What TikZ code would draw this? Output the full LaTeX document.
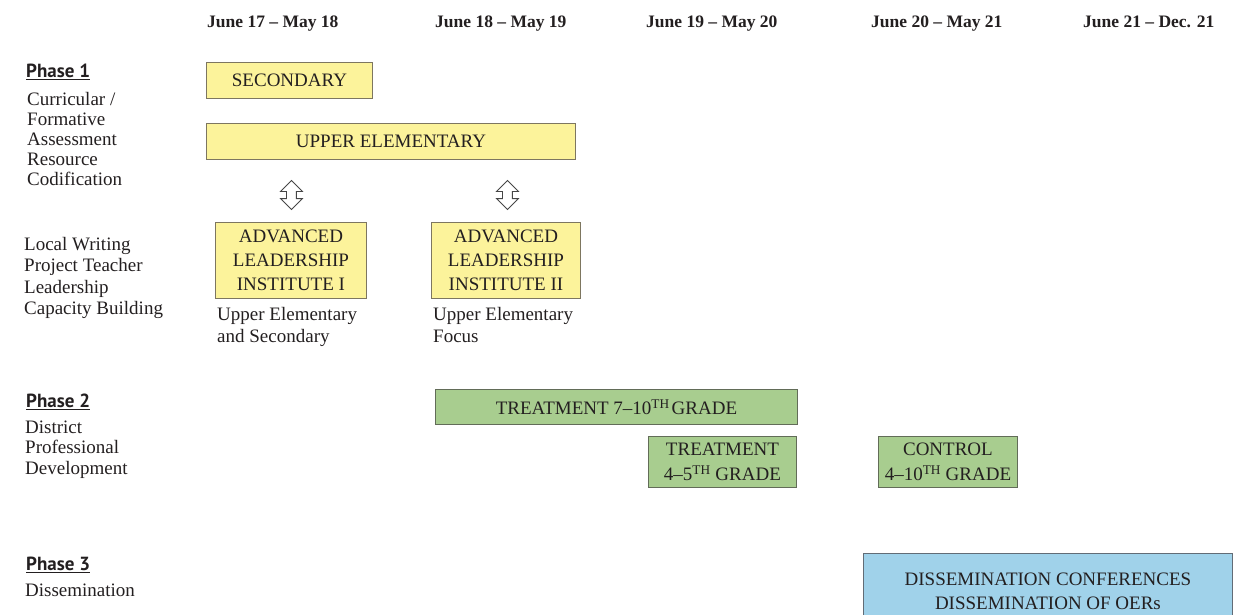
\documentclass[tikz,border=0pt]{standalone}
\usepackage{fontspec}
\setmainfont{Liberation Serif}
\newfontfamily\phasefont{PT Sans}
\usetikzlibrary{shapes.arrows,calc}
\definecolor{ink}{RGB}{35,31,32}
\definecolor{yfill}{RGB}{252,243,155}
\definecolor{yline}{RGB}{125,118,96}
\definecolor{gfill}{RGB}{168,205,143}
\definecolor{gline}{RGB}{98,108,88}
\definecolor{bfill}{RGB}{160,210,234}
\definecolor{bline}{RGB}{98,108,118}
\definecolor{arrline}{RGB}{70,70,70}
\begin{document}
\begin{tikzpicture}[x=1pt,y=-1pt,
  every node/.style={text=ink, inner sep=0pt},
  lbl/.style={anchor=base west, align=left, font=\fontsize{19}{20}\selectfont},
  hdr/.style={anchor=base west, font=\bfseries\fontsize{17.5}{20}\selectfont},
  phase/.style={anchor=base west, font=\phasefont\bfseries\fontsize{19}{20}\selectfont},
  boxbase/.style={draw, line width=0.9pt, anchor=north west, align=center, font=\fontsize{19}{24}\selectfont},
  ybox/.style={boxbase, fill=yfill, draw=yline},
  gbox/.style={boxbase, fill=gfill, draw=gline},
  bbox/.style={boxbase, fill=bfill, draw=bline},
  dblarrow/.style={double arrow, draw=arrline, fill=white, line width=0.9pt,
    shape border rotate=90, minimum height=29pt, inner sep=4.5pt,
    double arrow head extend=6pt},
  uline/.style={line width=1.1pt, draw=ink}
]
\useasboundingbox (0,0) rectangle (1234,614);
\clip (0,0) rectangle (1234,614);

% column headers
\node[hdr] (h1) at (207,27) {June 17 – May 18};
\node[hdr] (h2) at (435,27) {June 18 – May 19};
\node[hdr] (h3) at (646,27) {June 19 – May 20};
\node[hdr] (h4) at (871,27) {June 20 – May 21};
\node[hdr] (h5) at (1083,27) {June 21 – Dec. 21};

% phase labels (base anchor = baseline of the last line)
\node[phase] (p1) at (26,77) {Phase 1};
\draw[uline] ([yshift=-2.5pt]p1.base west) -- ([yshift=-2.5pt]p1.base east);
\node[lbl] (l1) at (27,185) {Curricular /\\Formative\\Assessment\\Resource\\Codification};
\node[lbl, font=\fontsize{19}{21.5}\selectfont] (l2) at (24,314.5) {Local Writing\\Project Teacher\\Leadership\\Capacity Building};

\node[phase] (p2) at (26,407) {Phase 2};
\draw[uline] ([yshift=-2.5pt]p2.base west) -- ([yshift=-2.5pt]p2.base east);
\node[lbl, font=\fontsize{19}{20.5}\selectfont] (l3) at (25,474) {District\\Professional\\Development};

\node[phase] (p3) at (26,570) {Phase 3};
\draw[uline] ([yshift=-2.5pt]p3.base west) -- ([yshift=-2.5pt]p3.base east);
\node[lbl] (l4) at (25,596) {Dissemination};

% phase 1 boxes
\node[ybox, minimum width=166pt, minimum height=36pt] (sec) at (206,62) {SECONDARY};
\node[ybox, minimum width=369pt, minimum height=36pt] (upel) at (206,123) {UPPER ELEMENTARY};
\node[ybox, minimum width=151pt, minimum height=76pt] (adv1) at (215,222) {ADVANCED\\LEADERSHIP\\INSTITUTE I};
\node[ybox, minimum width=149pt, minimum height=76pt] (adv2) at (431,222) {ADVANCED\\LEADERSHIP\\INSTITUTE II};

\node[dblarrow] (arr1) at ($(adv1.north)+(0.5,-27)$) {};
\node[dblarrow] (arr2) at ($(adv2.north)+(1.5,-27)$) {};

\node[lbl, font=\fontsize{19}{22}\selectfont] (u1) at (217,342) {Upper Elementary\\and Secondary};
\node[lbl, font=\fontsize{19}{22}\selectfont] (u2) at (433,342) {Upper Elementary\\Focus};

% phase 2 boxes
\node[gbox, minimum width=362pt, minimum height=35pt] (t7) at (435,389) {TREATMENT 7–10\textsuperscript{TH}\hspace{2pt}GRADE};
\node[gbox, minimum width=148pt, minimum height=51pt, font=\fontsize{19}{25}\selectfont] (t45) at (648,436) {TREATMENT\\4–5\textsuperscript{TH} GRADE};
\node[gbox, minimum width=139pt, minimum height=51pt, font=\fontsize{19}{25}\selectfont] (ctl) at (878,436) {CONTROL\\4–10\textsuperscript{TH} GRADE};

% phase 3 box
\node[bbox, minimum width=369pt, minimum height=75pt] (diss) at (863,553) {DISSEMINATION CONFERENCES\\DISSEMINATION OF OERs};
\end{tikzpicture}
\end{document}
